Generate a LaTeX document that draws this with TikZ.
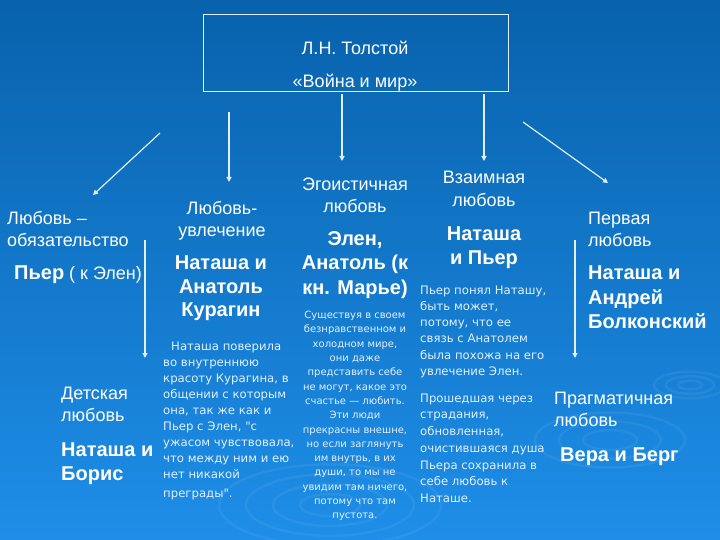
\documentclass[tikz,border=0pt]{standalone}
\usepackage{fontspec}
\setmainfont{Liberation Sans}
\newfontfamily\notefont{DejaVu Sans}
\usetikzlibrary{arrows.meta,calc}
\definecolor{bgTop}{RGB}{8,98,172}
\definecolor{bgMid}{RGB}{10,110,192}
\definecolor{bgBot}{RGB}{30,142,232}
\definecolor{lineCol}{RGB}{225,240,255}
\definecolor{noteCol}{RGB}{228,240,255}
\tikzset{
  >={Triangle[length=5pt,width=5pt]},
  frame/.style={draw=lineCol,line width=0.8pt,minimum width=305pt,minimum height=77pt,inner sep=0pt},
  kind/.style={text=white,inner sep=0pt,font=\fontsize{18}{22}\selectfont},
  couple/.style={text=white,inner sep=0pt,font=\bfseries\fontsize{20}{23.5}\selectfont},
  note/.style={text=noteCol,inner sep=0pt,font=\notefont\fontsize{11.7}{16}\selectfont,align=left},
  thinNote/.style={note,font=\notefont\fontsize{10}{14.3}\selectfont,align=center},
  link/.style={->,draw=lineCol,line width=1.2pt},
  ripple/.style={draw=white,opacity=0.06,line width=2.5pt},
}

\begin{document}
\begin{tikzpicture}[x=1pt,y=-1pt]
\useasboundingbox (0,0) rectangle (720,540);

% ===== Background with ripples =====
\shade[top color=bgTop,middle color=bgMid,bottom color=bgBot] (0,0) rectangle (720,540);
\foreach \r in {20,38,56,74} {\draw[ripple] (330,505) ellipse ({\r*1.5pt} and {\r*0.55pt});}
\foreach \r in {18,34,50} {\draw[ripple] (610,440) ellipse ({\r*1.5pt} and {\r*0.55pt});}
\foreach \r in {8,16,24} {\draw[ripple] (690,385) ellipse ({\r*1.5pt} and {\r*0.55pt});}

% ===== Title box =====
\node[frame] (tolstoy) at (355.5,52.5) {};
\node[kind,align=center,anchor=north,font=\fontsize{18}{33}\selectfont] (book) at (355,40.5) {Л.Н. Толстой\\«Война и мир»};

% ===== Connector anchors =====
\coordinate (dutyFrom) at (160,133);   \coordinate (dutyTo) at (93,195);
\coordinate (passFrom) at (229,112);   \coordinate (passTo) at (229,182);
\coordinate (egoTo) at (342,161);
\coordinate (mutualTo) at (484,161);
\coordinate (firstFrom) at (523,122);  \coordinate (firstTo) at (608,183);
\coordinate (childFrom) at (145,240);  \coordinate (childTo) at (145,358);
\coordinate (pragFrom) at (575,240);   \coordinate (pragTo) at (575,358);

\draw[link] (dutyFrom) -- (dutyTo);
\draw[link] (passFrom) -- (passTo);
\draw[link] ($(tolstoy.south -| egoTo)+(0,3)$) -- (egoTo);
\draw[link] ($(tolstoy.south -| mutualTo)+(0,3)$) -- (mutualTo);
\draw[link] (firstFrom) -- (firstTo);
\draw[link] (childFrom) -- (childTo);
\draw[link] (pragFrom) -- (pragTo);

% ===== Left column =====
\node[kind,align=left,anchor=north west] (duty) at (7,211) {Любовь –\\обязательство};
\node[inner sep=0pt,text=white,anchor=north west] (pierreHelen) at (14,266)
  {{\bfseries\fontsize{20}{24}\selectfont Пьер}\fontsize{18}{22}\selectfont{} ( к Элен)};
\node[kind,align=left,anchor=north west] (child) at (61,386.5) {Детская\\любовь};
\node[couple,align=left,anchor=north west] (natBoris) at (61,443) {Наташа и\\Борис};

% ===== Passion =====
\node[kind,align=center,anchor=north] (passion) at (222,201.5) {Любовь-\\увлечение};
\node[couple,align=center,anchor=north] (natAnat) at (221,256) {Наташа и\\Анатоль\\Курагин};
\node[note,anchor=north west] (natAnatNote) at (163,341.5)
  {\hspace*{8pt}Наташа поверила\\во внутреннюю\\красоту Курагина, в\\общении с которым\\она, так же как и\\Пьер с Элен, "с\\ужасом чувствовала,\\что между ним и ею\\нет никакой\\[3pt]преграды".};

% ===== Selfish love =====
\node[kind,align=center,anchor=north] (ego) at (355,177.5) {Эгоистичная\\любовь};
\node[couple,align=center,anchor=north,font=\bfseries\fontsize{20}{24.5}\selectfont] (helenAnat) at (355,231) {Элен,\\Анатоль (к\\кн. Марье)};
\node[thinNote,anchor=north] (egoNote) at (355,311)
  {Существуя в своем\\безнравственном и\\холодном мире,\\они даже\\представить себе\\не могут, какое это\\счастье — любить.\\Эти люди\\прекрасны внешне,\\но если заглянуть\\им внутрь, в их\\души, то мы не\\увидим там ничего,\\потому что там\\пустота.};

% ===== Mutual love =====
\node[kind,align=center,anchor=north,font=\fontsize{18}{23}\selectfont] (mutual) at (484,170.5) {Взаимная\\любовь};
\node[couple,align=center,anchor=north,font=\bfseries\fontsize{20}{24}\selectfont] (natPierre) at (484,227) {Наташа\\и Пьер};
\node[note,anchor=north west,font=\notefont\fontsize{11.7}{16.2}\selectfont] (pierreNote) at (420,285.5)
  {Пьер понял Наташу,\\быть может,\\потому, что ее\\связь с Анатолем\\была похожа на его\\увлечение Элен.};
\node[note,anchor=north west,font=\notefont\fontsize{11.7}{16.7}\selectfont] (soulNote) at (420,393.5)
  {Прошедшая через\\страдания,\\обновленная,\\очистившаяся душа\\Пьера сохранила в\\себе любовь к\\Наташе.};

% ===== Right column =====
\node[kind,align=left,anchor=north west] (first) at (588,211.5) {Первая\\любовь};
\node[couple,align=left,anchor=north west,font=\bfseries\fontsize{20}{24.5}\selectfont] (natAndrei) at (588,266) {Наташа и\\Андрей\\Болконский};
\node[kind,align=left,anchor=north west] (prag) at (554,391.5) {Прагматичная\\любовь};
\node[couple,anchor=north west] (veraBerg) at (560,448) {Вера и Берг};

\end{tikzpicture}
\end{document}
